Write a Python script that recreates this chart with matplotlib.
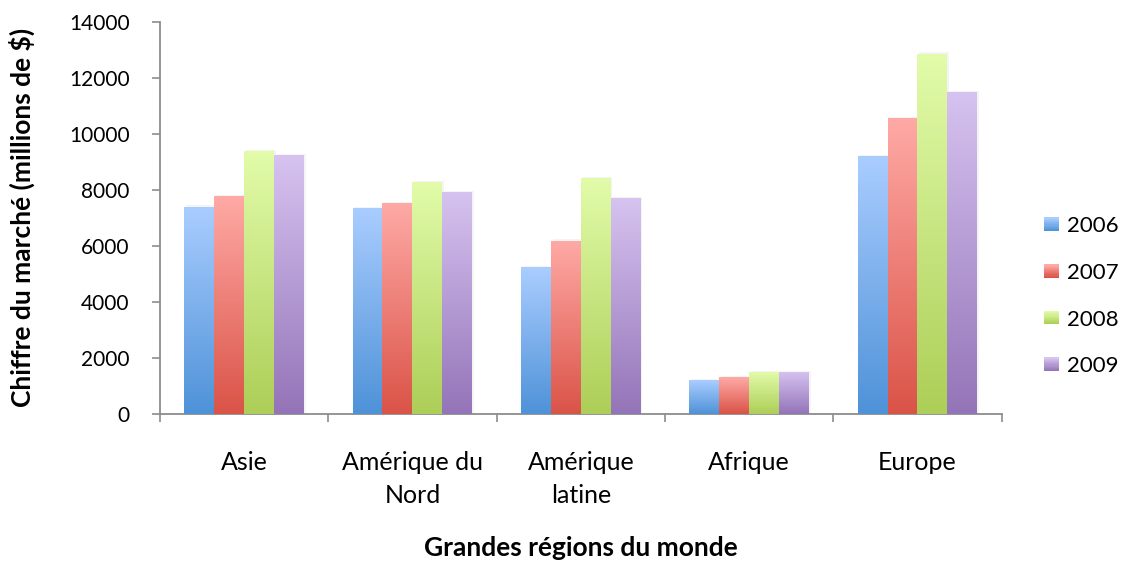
import numpy as np
import matplotlib
matplotlib.use("Agg")
import matplotlib.pyplot as plt
from matplotlib.colors import LinearSegmentedColormap
from matplotlib.patches import Rectangle
from matplotlib.legend_handler import HandlerBase

plt.rcParams['font.family'] = ['Lato', 'DejaVu Sans']

regions = ["Asie", "Amérique du\nNord", "Amérique\nlatine", "Afrique", "Europe"]
years = ["2006", "2007", "2008", "2009"]
v2006 = [7400, 7360, 5230, 1210, 9210]
v2007 = [7790, 7540, 6190, 1310, 10570]
v2008 = [9390, 8290, 8430, 1500, 12860]
v2009 = [9230, 7930, 7700, 1500, 11500]
values = [v2006, v2007, v2008, v2009]

# (dark bottom, light top)
grad = [("#4E92D8", "#AACDFF"),
        ("#DA5347", "#FFAAA6"),
        ("#ADCE57", "#E2FCAA"),
        ("#9474B8", "#D6C3F0")]
cmaps = [LinearSegmentedColormap.from_list("g%d" % i, g) for i, g in enumerate(grad)]


class GradHandler(HandlerBase):
    def __init__(self, cmap):
        super().__init__()
        self.cmap = cmap

    def create_artists(self, legend, orig_handle, xdescent, ydescent,
                       width, height, fontsize, trans):
        n = 12
        out = []
        for k in range(n):
            r = Rectangle((-xdescent, -ydescent + height * k / n), width, height / n + 0.3,
                          facecolor=self.cmap(k / (n - 1)), edgecolor='none', transform=trans)
            out.append(r)
        return out


fig = plt.figure(figsize=(11.28, 5.63), dpi=100)
ax = fig.add_axes([0.1418, 0.2647, 0.7462, 0.6968])

x = np.arange(len(regions))
w = 0.178
gradimg = np.linspace(0, 1, 256).reshape(-1, 1)
handles = []
for i, vals in enumerate(values):
    pos = x + (i - 1.5) * w
    # faint shadow
    ax.bar(pos + 0.01, np.array(vals) + 40, width=w, color="#000000", alpha=0.045,
           linewidth=0, zorder=1)
    bars = ax.bar(pos, vals, width=w, color=grad[i][0], linewidth=0, zorder=2)
    for b in bars:
        im = ax.imshow(gradimg, cmap=cmaps[i], origin='lower', aspect='auto',
                       extent=(b.get_x(), b.get_x() + b.get_width(), 0, b.get_height()),
                       zorder=3)
        im.set_clip_path(b)
    handles.append(bars)

ax.set_xlim(-0.5, len(regions) - 0.5)
ax.set_ylim(0, 14000)
ax.set_yticks(np.arange(0, 14001, 2000))
ax.set_xticks(x)
ax.set_xticklabels(regions, fontsize=18, linespacing=1.5)
ax.set_xticks(np.arange(-0.5, len(regions), 1), minor=True)
ax.tick_params(axis='x', which='major', length=0, pad=27)
ax.tick_params(axis='x', which='minor', length=6, width=1.2, color="#8C8C8C", direction='out')
ax.tick_params(axis='y', length=6, width=1.2, color="#8C8C8C", labelsize=15, pad=16)

for s in ['top', 'right']:
    ax.spines[s].set_visible(False)
for s in ['left', 'bottom']:
    ax.spines[s].set_color("#8C8C8C")
    ax.spines[s].set_linewidth(1.3)

ax.set_ylabel("Chiffre du marché (millions de $)", fontsize=19, fontweight='bold')
ax.yaxis.set_label_coords(-0.149, 0.5)
ax.set_xlabel("Grandes régions du monde", fontsize=19, fontweight='bold')
ax.xaxis.set_label_coords(0.5, -0.31)

leg = ax.legend(handles, years, loc='center left', bbox_to_anchor=(1.026, 0.30),
                frameon=False, fontsize=16, handlelength=0.7, handleheight=0.55,
                handletextpad=0.35, labelspacing=1.2,
                handler_map={h: GradHandler(cmaps[i]) for i, h in enumerate(handles)})

fig.savefig("out.png", dpi=100)
